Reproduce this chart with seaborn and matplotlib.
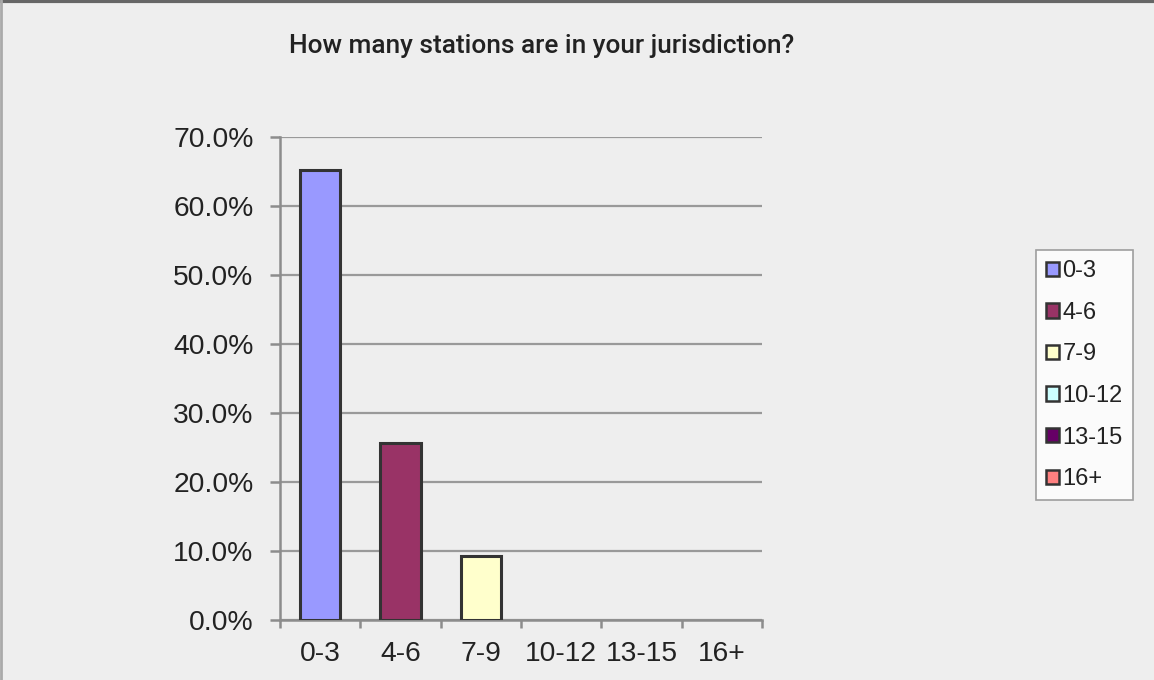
import matplotlib
matplotlib.use("Agg")
import matplotlib.pyplot as plt
from matplotlib.lines import Line2D
from matplotlib.patches import Patch
from matplotlib.ticker import FixedLocator, PercentFormatter
import seaborn as sns
import pandas as pd

# Survey answers: number of stations per jurisdiction
categories = ["0-3", "4-6", "7-9", "10-12", "13-15", "16+"]
shares = [65.2, 25.7, 9.3, 0.0, 0.0, 0.0]
colors = ["#9999FF", "#993366", "#FFFFCC", "#CCFFFF", "#660066", "#FF8080"]
y_ticks = [0, 10, 20, 30, 40, 50, 60, 70]

df = pd.DataFrame({"range": categories, "share": shares})

sns.set_theme(style="white")
plt.rcParams["font.family"] = ["Liberation Sans", "DejaVu Sans"]

bg = "#EEEEEE"
axis_grey = "#8C8C8C"
fig = plt.figure(figsize=(11.54, 6.8), dpi=100, facecolor=bg)
ax = fig.add_axes([0.2426, 0.0882, 0.4177, 0.7103])
ax.set_facecolor(bg)

sns.barplot(data=df, x="range", y="share", hue="range", order=categories,
            hue_order=categories, palette=colors, saturation=1, dodge=False, width=0.5,
            edgecolor="#333333", linewidth=2.2, legend=False, ax=ax, zorder=3)

# Empty answer groups get no visible outline
for bar in ax.patches:
    if bar.get_height() == 0:
        bar.set_visible(False)

ax.set_ylim(0, 70)
ax.set_xlim(-0.5, len(categories) - 0.5)
ax.yaxis.set_major_locator(FixedLocator(y_ticks))
ax.yaxis.set_major_formatter(PercentFormatter(decimals=1))
ax.grid(axis="y", color="#999999", linewidth=1.6, zorder=0)
ax.set_axisbelow(True)
ax.set_xlabel("")
ax.set_ylabel("")

for side in ["top", "right"]:
    ax.spines[side].set_visible(False)
for side in ["left", "bottom"]:
    ax.spines[side].set_color(axis_grey)
    ax.spines[side].set_linewidth(1.8)

# Category labels centred; tick marks sit on the category boundaries
ax.set_xticks(range(len(categories)))
ax.set_xticklabels(categories)
ax.xaxis.set_minor_locator(FixedLocator([i - 0.5 for i in range(len(categories) + 1)]))
ax.tick_params(axis="x", which="major", length=0, pad=15, labelsize=20.3, labelcolor="#222222")
ax.tick_params(axis="x", which="minor", length=6, width=1.8, color=axis_grey, direction="out")
ax.tick_params(axis="y", which="major", length=7, width=1.8, color=axis_grey, direction="out",
               pad=12, labelsize=20.3, labelcolor="#222222")
ax.tick_params(left=True, bottom=False)
ax.tick_params(axis="x", which="minor", bottom=True)

fig.text(0.2504, 0.932, "How many stations are in your jurisdiction?", fontsize=18.9,
         family=["Roboto", "DejaVu Sans"], fontweight="medium", color="#222222",
         ha="left", va="center")

handles = [Patch(facecolor=c, edgecolor="#333333", linewidth=1.8) for c in colors]
leg = fig.legend(handles, categories, loc="upper left", bbox_to_anchor=(0.8977, 0.632),
                 frameon=True, fancybox=False, fontsize=17, handlelength=0.55,
                 handleheight=0.55, handletextpad=0.15, labelspacing=0.83,
                 borderpad=0.42, borderaxespad=0)
leg.get_frame().set_facecolor("white")
leg.get_frame().set_edgecolor("#888888")
leg.get_frame().set_linewidth(1.2)
for t in leg.get_texts():
    t.set_color("#222222")

# Outer frame edges along the top and left of the figure
fig.add_artist(Line2D([0, 1], [0.998, 0.998], transform=fig.transFigure, color="#666666", linewidth=3))
fig.add_artist(Line2D([0.001, 0.001], [0, 1], transform=fig.transFigure, color="#aaaaaa", linewidth=2))

fig.savefig("out.png", dpi=100, facecolor=bg)
